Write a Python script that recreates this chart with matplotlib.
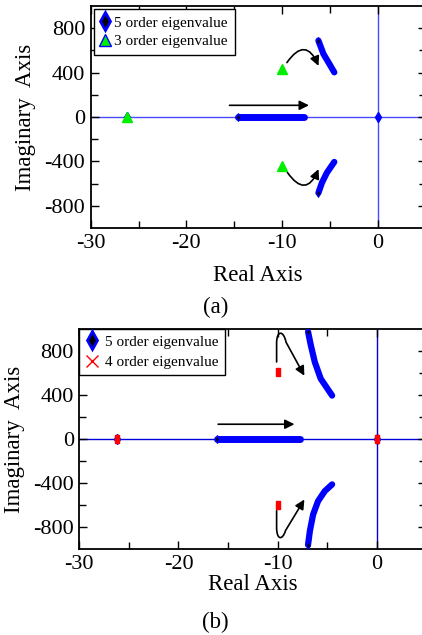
import numpy as np
import matplotlib.pyplot as plt
from matplotlib.path import Path
from matplotlib.patches import FancyArrowPatch

plt.rcParams['font.family'] = ['Liberation Serif', 'DejaVu Serif']
plt.rcParams['axes.unicode_minus'] = False

# ---- panel (a) data ----
a_real_axis = [-14.6, -12.0, -10.0, -7.7]          # 5 order, on real axis
a_up_re = [-6.21, -5.68, -5.16, -4.55]              # 5 order, upper branch
a_up_im = [688, 567, 492, 402]
a_lo_re = [-6.21, -5.85, -5.33, -4.55]              # 5 order, lower branch
a_lo_im = [-684, -594, -503, -405]
a_5_pts_re = [-26.2, 0.0]
a_5_pts_im = [0, 0]
a_3_re = [-26.2, -10.0, -10.0]                      # 3 order eigenvalues
a_3_im = [0, 432, -443]

# ---- panel (b) data ----
b_real_axis = [-16.1, -12.0, -10.0, -7.7]
b_up_re = [-6.93, -6.65, -6.25, -5.65, -5.07, -4.5]
b_up_im = [975, 852, 700, 548, 471, 395]
b_lo_re = [-6.93, -6.75, -6.42, -5.92, -5.24, -4.5]
b_lo_im = [-960, -837, -685, -563, -472, -411]
b_5_pts_re = [-26.2, 0.0]
b_5_pts_im = [0, 0]
b_4_re = [-26.2, 0.0, -10.0, -10.0]                 # 4 order eigenvalues
b_4_im = [0, 0, 608, -594]

xticks = [-30, -20, -10, 0]
yticks = [-800, -400, 0, 400, 800]

red_mark = [(-1, -1.7), (1, -1.7), (1, 1.7), (-1, 1.7), (-1, -1.7)]

fig = plt.figure(figsize=(4.22, 6.35), dpi=100)
ax_a = fig.add_axes([0.2149, 0.641, 0.7939, 0.3496])
ax_b = fig.add_axes([0.188, 0.135, 0.8222, 0.347])


def style_axes(ax, line_col):
    ax.set_xlim(-30, 5)
    ax.set_ylim(-1000, 1000)
    ax.set_xticks(xticks)
    ax.set_yticks(yticks)
    ax.set_xticks([-25, -15, -5], minor=True)
    ax.set_yticks([-600, -200, 200, 600], minor=True)
    ax.tick_params(which='both', direction='in', top=True, right=True,
                   labelsize=16, width=1, pad=4)
    ax.tick_params(which='major', length=6)
    ax.tick_params(which='minor', length=5)
    for s in ax.spines.values():
        s.set_linewidth(1.3)
    ax.axhline(0, color=line_col, lw=1, zorder=1)
    ax.axvline(0, color=line_col, lw=1, zorder=1)
    ax.set_xlabel('Real Axis', fontsize=16.5)
    ax.set_ylabel('Imaginary  Axis', fontsize=16.5, labelpad=6)


def draw_5(ax, real_axis, up_re, up_im, lo_re, lo_im, pts_re, pts_im):
    ax.plot(real_axis, [0] * len(real_axis), color='blue', lw=5,
            solid_capstyle='round', zorder=3)
    ax.plot(up_re, up_im, color='blue', lw=4.5, solid_capstyle='round',
            solid_joinstyle='round', zorder=3)
    ax.plot(lo_re, lo_im, color='blue', lw=4.5, solid_capstyle='round',
            solid_joinstyle='round', zorder=3)
    ax.plot(pts_re, pts_im, 'd', color='blue', ms=5, zorder=3)
    ax.plot([real_axis[0], up_re[0], lo_re[0]], [0, up_im[0], lo_im[0]], 'd',
            mfc='black', mec='blue', ms=4, mew=0.8, zorder=4)


# ---- panel (a) ----
style_axes(ax_a, '#4a4aff')
ax_a.xaxis.labelpad = 9
draw_5(ax_a, a_real_axis, a_up_re, a_up_im, a_lo_re, a_lo_im, a_5_pts_re, a_5_pts_im)
ax_a.plot(a_3_re, a_3_im, '^', mfc='#00ee00', mec='#00ee00', ms=6.5, zorder=5)
h5 = ax_a.plot([], [], 'd', mfc='black', mec='blue', ms=9, mew=2,
               label='5 order eigenvalue')[0]
h3 = ax_a.plot([], [], '^', mfc='#00ee00', mec='blue', ms=9, mew=1,
               label='3 order eigenvalue')[0]
leg = ax_a.legend(handles=[h5, h3], loc='upper left', fontsize=11,
                  fancybox=False, edgecolor='black', framealpha=1,
                  handlelength=0.6, handletextpad=0.3, borderaxespad=0.2,
                  borderpad=0.45, labelspacing=0.3)
leg.get_frame().set_linewidth(1)

ax_a.annotate('', xy=(-7.2, 105), xytext=(-15.5, 105),
              arrowprops=dict(arrowstyle='-|>', color='black', lw=1.2,
                              mutation_scale=14, shrinkA=0, shrinkB=0))
ax_a.annotate('', xy=(-6.2, 460), xytext=(-9.5, 490),
              arrowprops=dict(arrowstyle='-|>', color='black', lw=1.2,
                              mutation_scale=14, shrinkA=0, shrinkB=0,
                              connectionstyle='arc3,rad=-0.9'))
ax_a.annotate('', xy=(-6.2, -470), xytext=(-9.45, -500),
              arrowprops=dict(arrowstyle='-|>', color='black', lw=1.2,
                              mutation_scale=14, shrinkA=0, shrinkB=0,
                              connectionstyle='arc3,rad=0.9'))

# ---- panel (b) ----
style_axes(ax_b, '#0000dd')
ax_b.xaxis.labelpad = 0
draw_5(ax_b, b_real_axis, b_up_re, b_up_im, b_lo_re, b_lo_im, b_5_pts_re, b_5_pts_im)
ax_b.plot(b_4_re, b_4_im, marker=red_mark, ls='none', color='red', ms=6, zorder=5)
g5 = ax_b.plot([], [], 'd', mfc='black', mec='blue', ms=9, mew=2,
               label='5 order eigenvalue')[0]
g4 = ax_b.plot([], [], 'x', color='red', ms=9, mew=1,
               label='4 order eigenvalue')[0]
leg = ax_b.legend(handles=[g5, g4], loc='upper left', fontsize=11,
                  fancybox=False, edgecolor='black', framealpha=1,
                  handlelength=0.8, handletextpad=0.5, borderaxespad=0.0,
                  borderpad=0.4, labelspacing=0.45)
leg.get_frame().set_linewidth(1)

ax_b.annotate('', xy=(-8.3, 135), xytext=(-16.0, 135),
              arrowprops=dict(arrowstyle='-|>', color='black', lw=1.2,
                              mutation_scale=14, shrinkA=0, shrinkB=0))
up_hook = Path([(-10.1, 700), (-10.1, 870), (-10.1, 990), (-9.4, 990),
                (-9.15, 880), (-7.3, 575)],
               [Path.MOVETO, Path.LINETO, Path.CURVE4, Path.CURVE4,
                Path.CURVE4, Path.LINETO])
lo_hook = Path([(-10.1, -650), (-10.1, -800), (-10.1, -920), (-9.5, -920),
                (-9.2, -830), (-7.3, -548)],
               [Path.MOVETO, Path.LINETO, Path.CURVE4, Path.CURVE4,
                Path.CURVE4, Path.LINETO])
for p in (up_hook, lo_hook):
    ax_b.add_patch(FancyArrowPatch(path=p, arrowstyle='-|>', color='black',
                                   lw=1.2, mutation_scale=14))

fig.text(0.51, 1 - 307 / 635, '(a)', ha='center', va='center', fontsize=16.5)
fig.text(0.51, 1 - 622 / 635, '(b)', ha='center', va='center', fontsize=16.5)

fig.savefig('out.png', dpi=100)
